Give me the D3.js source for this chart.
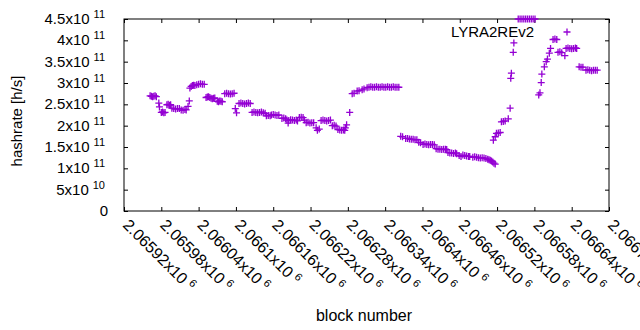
<!DOCTYPE html>
<html>
<head>
<meta charset="utf-8">
<script src="https://cdn.jsdelivr.net/npm/d3@7"></script>
<style>
  body { margin: 0; background: #fff; }
  text { font-family: "Liberation Sans", Arial, sans-serif; fill: #000; }
</style>
</head>
<body>
<svg id="chart" width="640" height="330"></svg>
<script>
const xTickValues = [2065920, 2065980, 2066040, 2066100, 2066160, 2066220, 2066280,
  2066340, 2066400, 2066460, 2066520, 2066580, 2066640, 2066700];
const xTickLabels = ["2.06592", "2.06598", "2.06604", "2.0661", "2.06616", "2.06622", "2.06628",
  "2.06634", "2.0664", "2.06646", "2.06652", "2.06658", "2.06664", "2.0667"];
const yTickValues = [0, 5e10, 1e11, 1.5e11, 2e11, 2.5e11, 3e11, 3.5e11, 4e11, 4.5e11];
const yTickLabels = ["0", "5", "1", "1.5", "2", "2.5", "3", "3.5", "4", "4.5"];
const yTickExponents = ["", "10", "11", "11", "11", "11", "11", "11", "11", "11"];
const seriesName = "LYRA2REv2";

// [block number, hashrate h/s]
const samples = [
  [2065962, 270e9], [2065964, 269e9], [2065966, 268e9], [2065968, 269e9], [2065970, 270e9], [2065972, 268e9],
  [2065976, 253e9], [2065977, 244e9],
  [2065980, 231e9], [2065982, 232e9], [2065984, 230e9], [2065986, 231e9],
  [2065989, 249e9], [2065991, 250e9], [2065993, 248e9], [2065995, 249e9],
  [2065997, 241e9], [2066000, 240e9], [2066003, 239e9], [2066006, 240e9], [2066009, 240e9],
  [2066012, 237e9], [2066015, 236e9], [2066018, 238e9], [2066020, 237e9],
  [2066023, 245e9], [2066025, 258e9],
  [2066026, 288e9], [2066028, 292e9], [2066030, 294e9], [2066032, 295e9], [2066034, 294e9],
  [2066037, 296e9], [2066040, 297e9], [2066043, 298e9], [2066046, 297e9], [2066049, 297e9],
  [2066052, 266e9], [2066054, 267e9], [2066056, 268e9], [2066058, 266e9],
  [2066060, 264e9], [2066062, 263e9], [2066064, 264e9], [2066066, 265e9],
  [2066070, 257e9], [2066072, 256e9], [2066074, 258e9], [2066076, 257e9], [2066078, 256e9],
  [2066082, 275e9], [2066085, 276e9], [2066088, 275e9], [2066091, 274e9], [2066094, 275e9], [2066097, 276e9],
  [2066099, 240e9], [2066101, 230e9],
  [2066105, 252e9], [2066108, 253e9], [2066111, 252e9], [2066114, 251e9], [2066117, 252e9], [2066120, 253e9], [2066123, 252e9],
  [2066126, 231e9], [2066129, 232e9], [2066132, 231e9], [2066135, 230e9], [2066138, 231e9], [2066141, 232e9], [2066144, 230e9], [2066147, 229e9],
  [2066149, 223e9], [2066152, 224e9], [2066155, 223e9],
  [2066157, 225e9], [2066160, 226e9], [2066163, 225e9], [2066166, 224e9], [2066169, 225e9],
  [2066174, 217e9], [2066177, 218e9], [2066180, 216e9],
  [2066182, 213e9], [2066184, 206e9], [2066185, 212e9], [2066188, 214e9], [2066191, 213e9], [2066194, 212e9], [2066197, 213e9], [2066199, 211e9],
  [2066202, 219e9], [2066205, 220e9], [2066208, 219e9],
  [2066210, 213e9], [2066213, 207e9], [2066216, 208e9], [2066219, 206e9], [2066222, 207e9], [2066225, 207e9],
  [2066229, 195e9], [2066231, 189e9], [2066234, 192e9],
  [2066237, 212e9], [2066240, 213e9], [2066243, 212e9], [2066246, 211e9], [2066249, 212e9], [2066252, 213e9],
  [2066255, 200e9], [2066258, 201e9], [2066261, 199e9],
  [2066264, 191e9], [2066267, 190e9], [2066270, 189e9], [2066273, 190e9], [2066275, 189e9],
  [2066276, 195e9], [2066278, 202e9],
  [2066283, 231e9],
  [2066287, 275e9], [2066290, 276e9], [2066295, 281e9], [2066298, 282e9], [2066303, 284e9], [2066306, 286e9], [2066311, 289e9],
  [2066314, 290e9], [2066317, 291e9], [2066320, 290e9], [2066323, 290e9], [2066326, 291e9], [2066329, 290e9],
  [2066332, 290e9], [2066335, 291e9], [2066338, 290e9], [2066341, 290e9], [2066344, 291e9], [2066347, 290e9],
  [2066350, 290e9], [2066353, 291e9], [2066356, 290e9], [2066359, 290e9], [2066362, 290e9],
  [2066365, 175e9], [2066368, 174e9],
  [2066373, 170e9], [2066376, 170e9], [2066379, 169e9], [2066382, 168e9], [2066385, 168e9], [2066388, 167e9], [2066391, 167e9],
  [2066394, 161e9], [2066397, 160e9],
  [2066401, 156e9], [2066404, 157e9], [2066407, 156e9], [2066410, 155e9], [2066413, 156e9], [2066416, 156e9], [2066419, 155e9],
  [2066422, 146e9], [2066425, 145e9], [2066428, 145e9], [2066431, 144e9], [2066434, 145e9], [2066437, 145e9], [2066439, 144e9],
  [2066441, 137e9], [2066444, 136e9], [2066447, 136e9], [2066450, 135e9], [2066453, 136e9], [2066455, 134e9],
  [2066459, 130e9], [2066462, 128e9], [2066465, 131e9], [2066468, 130e9], [2066471, 129e9], [2066474, 128e9], [2066476, 128e9],
  [2066481, 126e9], [2066484, 127e9], [2066487, 126e9], [2066490, 125e9], [2066493, 124e9], [2066496, 125e9], [2066499, 124e9],
  [2066502, 123e9], [2066505, 121e9], [2066507, 120e9], [2066509, 119e9], [2066511, 117e9], [2066513, 115e9], [2066515, 112e9], [2066517, 110e9],
  [2066514, 166e9], [2066517, 174e9],
  [2066519, 182e9], [2066522, 183e9], [2066525, 184e9],
  [2066527, 209e9], [2066530, 210e9], [2066533, 211e9],
  [2066538, 216e9], [2066541, 241e9], [2066542, 311e9], [2066543, 323e9], [2066546, 372e9], [2066547, 394e9],
  [2066554, 450e9], [2066557, 450e9], [2066560, 450e9], [2066563, 450e9], [2066566, 450e9],
  [2066569, 450e9], [2066572, 450e9], [2066575, 450e9], [2066578, 450e9], [2066581, 450e9],
  [2066587, 272e9], [2066589, 277e9], [2066591, 301e9], [2066592, 321e9], [2066596, 338e9],
  [2066599, 350e9], [2066601, 356e9], [2066604, 370e9], [2066606, 381e9],
  [2066610, 402e9], [2066613, 403e9], [2066616, 402e9],
  [2066618, 372e9], [2066621, 373e9], [2066624, 371e9], [2066629, 364e9],
  [2066631, 381e9], [2066634, 382e9], [2066637, 381e9], [2066640, 380e9], [2066643, 381e9], [2066646, 382e9], [2066648, 381e9],
  [2066652, 338e9], [2066655, 337e9], [2066658, 337e9],
  [2066663, 330e9], [2066666, 331e9], [2066669, 330e9], [2066672, 329e9], [2066675, 330e9], [2066678, 330e9], [2066681, 330e9]
];

const margin = { top: 19, right: 31, bottom: 119, left: 124 };
const width = 640 - margin.left - margin.right;
const height = 330 - margin.top - margin.bottom;
const pointColor = "#9400d3";
const plusPath = "M-3.5,0H3.5M0,-3.5V3.5";

const svg = d3.select("#chart");
const g = svg.append("g").attr("transform", `translate(${margin.left},${margin.top})`);

const xScale = d3.scaleLinear().domain([2065920, 2066700]).range([0, width]);
const yScale = d3.scaleLinear().domain([0, 4.5e11]).range([height, 0]);

// inward ticks on all four sides (mirror ticks like gnuplot)
const tickLen = 4;
g.append("g").attr("transform", `translate(0,${height})`)
  .call(d3.axisBottom(xScale).tickValues(xTickValues).tickSize(-tickLen).tickSizeOuter(0).tickFormat(""));
g.append("g")
  .call(d3.axisTop(xScale).tickValues(xTickValues).tickSize(-tickLen).tickSizeOuter(0).tickFormat(""));
g.append("g")
  .call(d3.axisLeft(yScale).tickValues(yTickValues).tickSize(-tickLen).tickSizeOuter(0).tickFormat(""));
g.append("g").attr("transform", `translate(${width},0)`)
  .call(d3.axisRight(yScale).tickValues(yTickValues).tickSize(-tickLen).tickSizeOuter(0).tickFormat(""));
g.selectAll(".domain").remove();
g.selectAll(".tick line").attr("stroke", "#000");

g.append("rect")
  .attr("width", width)
  .attr("height", height)
  .attr("fill", "none")
  .attr("stroke", "#000")
  .attr("stroke-width", 1);

// y tick labels with exponent
yTickValues.forEach((v, i) => {
  const t = g.append("text")
    .attr("x", yTickExponents[i] ? -19 : -16)
    .attr("y", yScale(v) + 5)
    .attr("text-anchor", "end")
    .attr("font-size", 15);
  if (yTickExponents[i]) {
    t.append("tspan").text(yTickLabels[i] + "x10");
    t.append("tspan").attr("dx", 4).attr("dy", -6).attr("font-size", 11).text(yTickExponents[i]);
  } else {
    t.text(yTickLabels[i]);
  }
});

// x tick labels, rotated
xTickValues.forEach((v, i) => {
  const t = g.append("text")
    .attr("transform", `translate(${xScale(v) - 2},${height + 15}) rotate(45)`)
    .attr("text-anchor", "start")
    .attr("font-size", 16);
  t.append("tspan").text(xTickLabels[i] + "x10");
  t.append("tspan").attr("dx", 4).attr("dy", -6).attr("font-size", 11).text("6");
});

svg.append("text")
  .attr("x", 364)
  .attr("y", 321)
  .attr("text-anchor", "middle")
  .attr("font-size", 16)
  .text("block number");

svg.append("text")
  .attr("transform", "translate(22,121) rotate(-90)")
  .attr("text-anchor", "middle")
  .attr("font-size", 15)
  .text("hashrate [h/s]");

g.selectAll("path.pt")
  .data(samples)
  .join("path")
  .attr("class", "pt")
  .attr("d", plusPath)
  .attr("transform", (d) => `translate(${xScale(d[0])},${yScale(d[1])})`)
  .attr("fill", "none")
  .attr("stroke", pointColor)
  .attr("stroke-width", 1.3);

// key
g.append("text")
  .attr("x", 410)
  .attr("y", 18)
  .attr("text-anchor", "end")
  .attr("font-size", 15)
  .text(seriesName);
g.append("path")
  .attr("d", plusPath)
  .attr("transform", "translate(443,13)")
  .attr("fill", "none")
  .attr("stroke", pointColor)
  .attr("stroke-width", 1.3);
</script>
</body>
</html>
